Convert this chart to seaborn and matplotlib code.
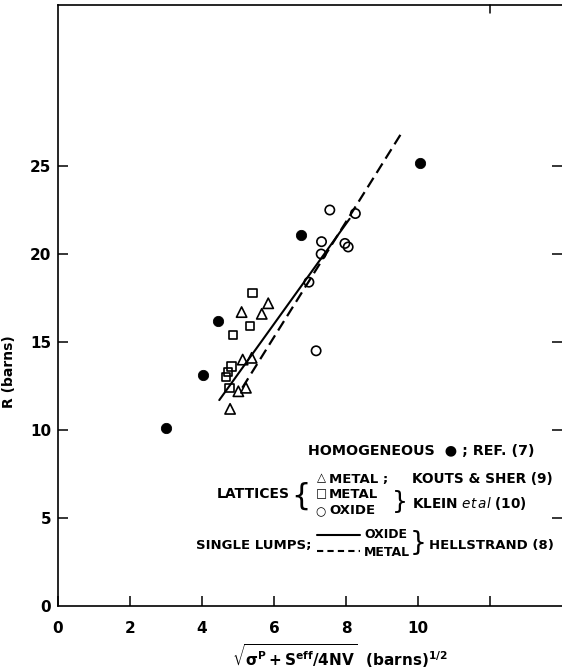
import numpy as np
import matplotlib
matplotlib.use("Agg")
import matplotlib.pyplot as plt
import seaborn as sns
from matplotlib.lines import Line2D

# ==== Data ====
# homogeneous, ref. (7)
homog_x = [3.0, 4.02, 4.45, 6.75, 10.05]
homog_y = [10.1, 13.1, 16.2, 21.1, 25.15]

# lattices, metal, Kouts & Sher (9)
kouts_x = [4.78, 5.01, 5.22, 5.13, 5.38, 5.10, 5.66, 5.84]
kouts_y = [11.2, 12.2, 12.4, 14.0, 14.1, 16.7, 16.6, 17.2]

# lattices, metal, Klein et al (10)
klein_metal_x = [4.76, 4.67, 4.73, 4.82, 4.87, 5.33, 5.40]
klein_metal_y = [12.4, 13.0, 13.3, 13.6, 15.4, 15.9, 17.8]

# lattices, oxide, Klein et al (10)
klein_oxide_x = [7.17, 6.97, 7.31, 7.32, 7.55, 8.26, 7.97, 8.06]
klein_oxide_y = [14.5, 18.4, 20.0, 20.7, 22.5, 22.3, 20.6, 20.4]

# single lumps, Hellstrand (8)
oxide_line_x = [4.48, 8.10]
oxide_line_y = [11.7, 22.0]
metal_line_x = [5.12, 9.52]
metal_line_y = [12.4, 26.8]

x_ticks = [0, 2, 4, 6, 8, 10, 12]
x_ticklabels = ["0", "2", "4", "6", "8", "10", ""]
y_ticks = [0, 5, 10, 15, 20, 25]

# ==== Style ====
sns.set_style("ticks")
plt.rcParams["font.family"] = ["DejaVu Sans"]
plt.rcParams["mathtext.fontset"] = "dejavusans"
plt.rcParams["mathtext.default"] = "regular"
for k in ["text.color", "axes.labelcolor", "xtick.color", "ytick.color", "axes.edgecolor"]:
    plt.rcParams[k] = "black"

fig = plt.figure(figsize=(5.62, 6.72), dpi=100)
W, H = 562, 672
L, B, R, T = 58, 606, 562, 5
ax = fig.add_axes([L / W, (H - B) / H, (R - L) / W, (B - T) / H])

# ==== Data marks ====
sns.lineplot(x=oxide_line_x, y=oxide_line_y, color="black", linewidth=1.5, ax=ax)
sns.lineplot(x=metal_line_x, y=metal_line_y, color="black", linewidth=1.6,
             linestyle=(0, (5, 2.6)), ax=ax)

sns.scatterplot(x=homog_x, y=homog_y, marker="o", s=55, color="black",
                edgecolor="black", ax=ax, zorder=3)
sns.scatterplot(x=kouts_x, y=kouts_y, marker="^", s=55, facecolor="none",
                edgecolor="black", linewidth=1.2, ax=ax, zorder=3)
sns.scatterplot(x=klein_metal_x, y=klein_metal_y, marker="s", s=36, facecolor="none",
                edgecolor="black", linewidth=1.2, ax=ax, zorder=3)
sns.scatterplot(x=klein_oxide_x, y=klein_oxide_y, marker="o", s=45, facecolor="none",
                edgecolor="black", linewidth=1.2, ax=ax, zorder=3)

# ==== Axes ====
ax.set_xlim(0, (R - L) / 36)
ax.set_ylim(0, (B - T) / 17.6)
ax.set_xticks(x_ticks)
ax.set_xticklabels(x_ticklabels)
ax.set_yticks(y_ticks)
ax.tick_params(axis="x", direction="in", length=7, width=1.1, pad=11,
               labelsize=11, top=False)
ax.tick_params(axis="y", direction="in", length=7, width=1.1, pad=5,
               labelsize=11, right=True)
for lab in ax.get_xticklabels() + ax.get_yticklabels():
    lab.set_fontweight("bold")
ax.spines["right"].set_visible(False)
for s in ["left", "bottom", "top"]:
    ax.spines[s].set_linewidth(1.2)
# y = 0 has a label but no tick mark
ax.yaxis.get_major_ticks()[0].tick1line.set_visible(False)
ax.yaxis.get_major_ticks()[0].tick2line.set_visible(False)
# one tick on the top frame at x = 12
ax.plot([12, 12], [ax.get_ylim()[1], ax.get_ylim()[1] - 0.45], color="black", lw=1.1,
        clip_on=False)

ax.set_xlabel(r"$\sqrt{\sigma^P+S^{eff}/4NV}$  (barns)$^{1/2}$", fontsize=11,
              fontweight="bold")
ax.xaxis.set_label_coords((340 - L) / (R - L), (B - 642) / (B - T))
ax.set_ylabel("R (barns)", fontsize=10, fontweight="bold")
ax.yaxis.set_label_coords((16 - L) / (R - L), (B - 372) / (B - T))


# ==== Hand-lettered legend ====
def at(xp, yp):
    return (xp - L) / (R - L), (B - yp) / (B - T)


def txt(xp, yp, s, ha="left", size=9.5, **kw):
    x, y = at(xp, yp)
    ax.text(x, y, s, transform=ax.transAxes, ha=ha, va="center", fontsize=size,
            fontweight=kw.pop("fontweight", "bold"), **kw)


txt(308, 451, "HOMOGENEOUS  \u25CF ; REF. (7)", size=10.3)

txt(290, 494, "LATTICES", ha="right", size=10)
txt(301, 496, "{", ha="center", size=22, fontweight="normal")
txt(321, 478, "\u25B3", ha="center", size=8.5)
txt(321, 494, "\u25A1", ha="center", size=8.5)
txt(321, 512, "\u25CB", ha="center", size=8.5)
txt(329, 479, "METAL ;")
txt(329, 494, "METAL")
txt(329, 511, "OXIDE")
txt(400, 502, "}", ha="center", size=18, fontweight="normal")
txt(412, 479, "KOUTS & SHER (9)", size=9.8)
txt(412, 504, r"KLEIN $\it{et\,al}$ (10)", size=9.8)

txt(312, 546, "SINGLE LUMPS;", ha="right")
for yp, ls in [(535, "-"), (551, (0, (3, 2)))]:
    x0, y0 = at(317, yp)
    x1, _ = at(360, yp)
    ax.add_line(Line2D([x0, x1], [y0, y0], transform=ax.transAxes, color="black",
                       lw=1.5, linestyle=ls))
txt(364, 535, "OXIDE", size=9)
txt(364, 552, "METAL", size=9)
txt(418, 543, "}", ha="center", size=19, fontweight="normal")
txt(429, 546, "HELLSTRAND (8)")

fig.savefig("out.png", dpi=100)
